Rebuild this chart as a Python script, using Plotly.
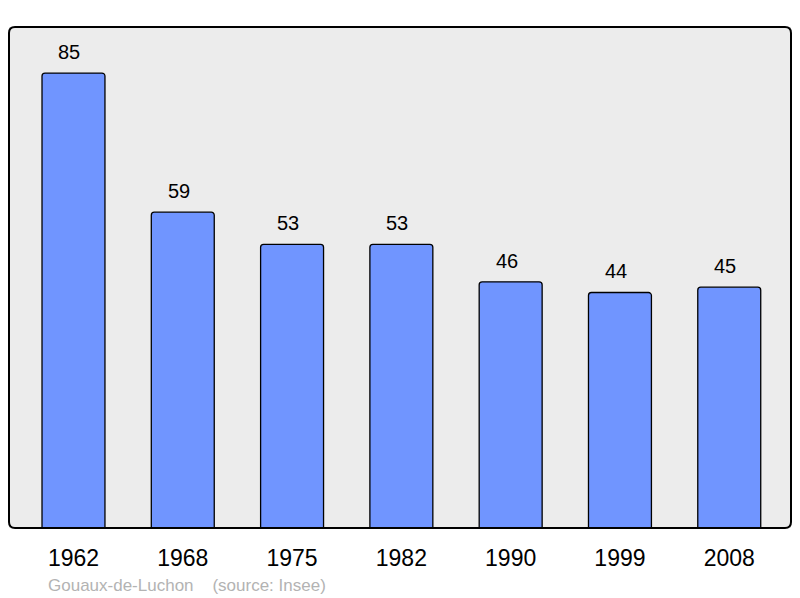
import plotly.graph_objects as go

years = ["1962", "1968", "1975", "1982", "1990", "1999", "2008"]
population = [85, 59, 53, 53, 46, 44, 45]
commune = "Gouaux-de-Luchon"
source = "(source: Insee)"

xs = list(range(len(years)))
FONT = "Liberation Sans, Arial, sans-serif"

fig = go.Figure()
fig.add_trace(go.Bar(
    x=xs, y=population, width=0.576,
    marker=dict(color="#7095ff", line=dict(color="black", width=1.3), cornerradius=3),
    hoverinfo="skip",
))

for x, v in zip(xs, population):
    fig.add_annotation(x=x, y=v, text=str(v), showarrow=False, yanchor="bottom",
                       yshift=8, xshift=-4, font=dict(size=20, color="black", family=FONT))

fig.add_annotation(xref="paper", yref="paper", x=(46 - 9) / 782, y=-(585 - 528) / 501,
                   xanchor="left", yanchor="middle", showarrow=False,
                   text=commune + "&nbsp;&nbsp;&nbsp;&nbsp;" + source,
                   font=dict(size=17, color="#b3b3b3", family=FONT))

# frame with slightly rounded corners (paper coordinates)
rx, ry = 6 / 782, 6 / 501
frame = (f"M {rx},0 L {1-rx},0 Q 1,0 1,{ry} L 1,{1-ry} Q 1,1 {1-rx},1 "
         f"L {rx},1 Q 0,1 0,{1-ry} L 0,{ry} Q 0,0 {rx},0 Z")
fig.add_shape(type="path", xref="paper", yref="paper", path=frame,
              line=dict(color="black", width=2), layer="above")

fig.update_layout(
    width=800, height=598,
    margin=dict(l=9, r=9, t=27, b=70),
    paper_bgcolor="white", plot_bgcolor="#ececec",
    showlegend=False,
    xaxis=dict(range=[-0.59, 6.565], tickmode="array", tickvals=xs, ticktext=years,
               showgrid=False, zeroline=False, ticks="outside", ticklen=9,
               tickcolor="rgba(0,0,0,0)", fixedrange=True,
               tickfont=dict(size=23, color="black", family=FONT)),
    yaxis=dict(range=[0, 93.6], showgrid=False, zeroline=False, showticklabels=False,
               fixedrange=True),
)

fig.write_html("out.html", config={"displayModeBar": False},
               post_script="document.body.style.margin='0px';")
